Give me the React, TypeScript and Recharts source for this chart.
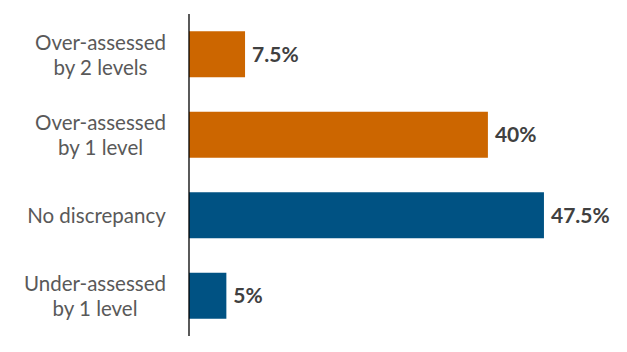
import { useLayoutEffect, useRef, useState } from "react";
import { BarChart, Bar, XAxis, YAxis, Cell, LabelList } from "recharts";

const categories = [
  "Over-assessed\nby 2 levels",
  "Over-assessed\nby 1 level",
  "No discrepancy",
  "Under-assessed\nby 1 level",
];
const shares = [7.5, 40, 47.5, 5];
const shareLabels = ["7.5%", "40%", "47.5%", "5%"];
const barColors = ["#CC6600", "#CC6600", "#005283", "#005283"];

const data = categories.map((name, i) => ({
  name,
  value: shares[i],
  label: shareLabels[i],
}));

const FONT = "Lato, 'Open Sans', sans-serif";
const TICK_SIZE = 20.5;

function CategoryTick(props: any) {
  const { x, y, payload } = props;
  const lines: string[] = String(payload.value).split("\n");
  const ref = useRef<SVGTextElement>(null);
  const [w, setW] = useState(0);
  useLayoutEffect(() => {
    const m = () => {
      if (ref.current) setW(ref.current.getBBox().width);
    };
    m();
    document.fonts?.ready.then(m);
  }, []);
  // tick x already sits 8px left of the axis line
  const right = x - 15;
  const cx = right - w / 2;
  const lh = 25;
  const startY = y - ((lines.length - 1) * lh) / 2;
  return (
    <text
      ref={ref}
      textAnchor="middle"
      fill="#595959"
      fontSize={TICK_SIZE}
      fontFamily={FONT}
      dominantBaseline="central"
    >
      {lines.map((l, i) => (
        <tspan key={i} x={cx} y={startY + i * lh}>
          {l}
        </tspan>
      ))}
    </text>
  );
}

export default function App() {
  return (
    <div style={{ position: "absolute", left: 0, top: 0, background: "#fff" }}>
      <BarChart
        width={627}
        height={352}
        data={data}
        layout="vertical"
        margin={{ top: 14, right: 27, bottom: 16, left: 0 }}
        barCategoryGap="21.5%"
      >
        <XAxis type="number" domain={[0, 55]} hide />
        <YAxis
          type="category"
          dataKey="name"
          width={189}
          axisLine={{ stroke: "#000", strokeWidth: 1.3 }}
          tickLine={false}
          tick={<CategoryTick />}
          interval={0}
        />
        <Bar dataKey="value" isAnimationActive={false}>
          {data.map((_, i) => (
            <Cell key={i} fill={barColors[i]} />
          ))}
          <LabelList
            dataKey="label"
            position="right"
            offset={7}
            fill="#404040"
            fontSize={21}
            fontWeight="bold"
            fontFamily={FONT}
          />
        </Bar>
      </BarChart>
    </div>
  );
}
